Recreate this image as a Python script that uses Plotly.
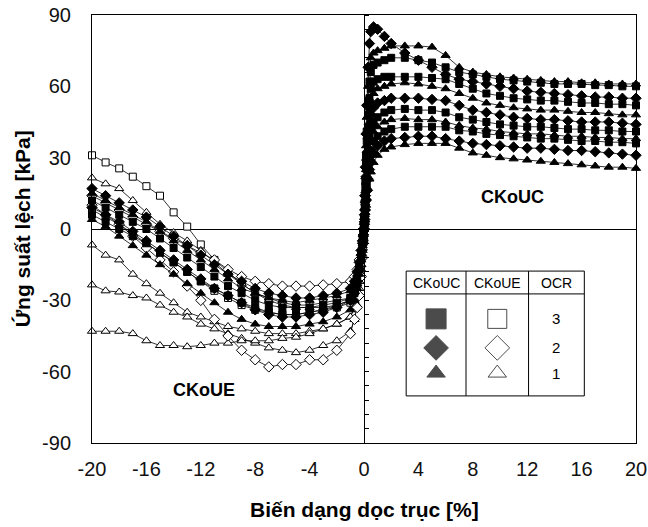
import plotly.graph_objects as go

# ---------------- data ----------------
XR = [0, 0.03, 0.06, 0.1, 0.15, 0.2, 0.3, 0.4, 0.5, 0.7, 1, 1.5, 2, 3, 4, 5, 6, 7, 8, 9,
      10, 11, 12, 13, 14, 15, 16, 17, 18, 19, 20]

uc_r1_dia = [0, 6, 14, 26, 40, 52, 68, 78, 83, 85, 84, 81, 78, 74, 71, 68, 65, 63, 62, 61,
             60, 59, 58, 57.5, 57, 56.5, 56, 55.5, 55.5, 55, 55]
uc_r2_tri = [0, 5, 12, 22, 35, 47, 60, 68, 72, 74, 75, 76, 77, 77, 77, 76.5, 73, 68, 66, 65,
             64, 63.5, 63, 62.5, 62, 62, 61.5, 61.5, 61, 61, 61]
uc_r3_sq = [0, 5, 11, 20, 31, 41, 54, 62, 66, 69, 70, 71, 72, 72, 71, 70, 68, 66, 65, 64,
            63, 62.5, 62, 61.5, 61, 61, 61, 60.5, 60.5, 60, 60]
uc_r4_sq = [0, 4, 10, 18, 28, 37, 48, 55, 59, 62, 63, 64, 64, 64, 64, 63.5, 63, 61, 59, 57,
            56, 55, 54.5, 54, 54, 53.5, 53, 53, 52.5, 52.5, 52]
uc_r5_tri = [0, 4, 9, 16, 25, 33, 43, 50, 54, 57, 59, 60, 61, 61.5, 61, 60, 59, 57, 55, 53,
             52, 51, 50.5, 50, 50, 49.5, 49, 49, 48.5, 48, 48]
uc_r6_dia = [0, 3, 8, 14, 22, 29, 38, 44, 48, 51, 53, 54, 55, 55, 55, 54.5, 54, 52, 50, 49,
             48, 47, 46.5, 46, 46, 45.5, 45, 45, 45, 44.5, 44]
uc_r7_sq = [0, 3, 7, 12, 19, 25, 33, 39, 42, 45, 47, 49, 50, 50.5, 50, 50, 49, 47, 46, 45,
            44, 43.5, 43, 43, 42.5, 42, 42, 41.5, 41.5, 41, 41]
uc_r8_tri = [0, 3, 6, 11, 17, 22, 29, 34, 38, 41, 43, 45, 46, 46.5, 46, 46, 45, 43.5, 42.5, 42,
             41, 40.5, 40, 40, 39.5, 39, 39, 38.5, 38.5, 38, 38]
uc_r9_sq = [0, 2, 5, 9, 14, 19, 25, 30, 33, 37, 39, 41, 42, 43, 43, 43, 43, 41.5, 41, 40,
            39.5, 39, 38.5, 38, 38, 37.5, 37, 37, 36.5, 36.5, 36]
uc_r10_dia = [0, 2, 4, 8, 12, 16, 21, 25, 28, 32, 35, 37, 38, 38.5, 39, 39, 38, 37, 36, 35.5,
              35, 34.5, 34, 34, 33.5, 33, 33, 32.5, 32, 31.5, 31]
uc_r11_tri = [0, 2, 4, 7, 10, 13, 17, 21, 24, 28, 31, 33.5, 34.5, 35.5, 36, 36, 36, 34, 32, 31,
              30, 29.5, 29, 28.5, 28, 27.5, 27, 26.5, 26, 26, 25.5]

XL = [-20, -19, -18, -17, -16, -15, -14, -13, -12, -11, -10, -9, -8, -7, -6, -5, -4, -3, -2, -1,
      -0.7, -0.5, -0.35, -0.2, -0.1, -0.05, 0]

ue_l1_sq = [31, 28, 25.5, 22, 18, 14, 7, 1, -6.5, -13, -18, -23, -27, -29, -31, -32, -32, -31, -30, -29,
            -26, -22, -17, -11, -6, -3, 0]
ue_l2_tri = [21.5, 19, 17, 12, 7, 2, -1.5, -5, -9, -14, -19, -23, -27, -30, -32, -33, -33, -33, -32, -30,
             -27, -23, -18, -12, -6, -3, 0]
ue_f1_dia = [17, 14, 11, 8, 5, 1, -3, -7, -11, -15, -19, -22, -25, -27, -28, -29, -29, -28, -27, -25,
             -22, -18, -14, -9, -5, -2.5, 0]
ue_f3_tri = [15, 12, 9, 6, 3, -1, -5, -9, -13, -17, -21, -25, -27, -29, -30, -31, -30, -29, -28, -26,
             -23, -19, -15, -10, -5, -2.5, 0]
ue_f2_sq = [12, 9, 6, 3, 0, -4, -8, -12, -16, -20, -24, -27, -30, -32, -33, -33, -33, -32, -31, -29,
            -26, -21, -16, -11, -6, -3, 0]
ue_f6_dia = [9, 6, 3, -1, -5, -9, -13, -17, -21, -25, -28, -31, -34, -36, -37, -37, -36, -35, -33, -30,
             -27, -22, -17, -11, -6, -3, 0]
ue_f4_sq = [6, 3, 0, -3, -6, -10, -14, -18, -22, -25, -28, -31, -33, -35, -36, -36, -35, -34, -32, -30,
            -27, -23, -17, -12, -6, -3, 0]
ue_f5_tri = [4, 1, -3, -7, -11, -15, -19, -23, -27, -31, -35, -38, -40, -41, -41, -41, -40, -39, -37, -34,
             -30, -25, -19, -13, -7, -3.5, 0]
ue_l3_sq = [8, 5, 2, -2, -6, -10, -14, -18, -22, -26, -29, -32, -34, -35, -36, -36, -35, -34, -33, -31,
            -28, -23, -18, -12, -6, -3, 0]
ue_l8_dia = [14, 11, 8, 5, 2, -1, -4, -7, -10, -13, -17, -20, -22, -23, -24, -24, -24, -23.5, -23, -22,
             -20, -17, -13, -9, -5, -2.5, 0]
ue_l4_tri = [-6.7, -11, -13, -19, -23, -27, -31, -35, -37, -39, -41, -42, -43, -44, -44, -44, -43, -42, -40, -37,
             -33, -28, -22, -15, -8, -4, 0]
ue_l5_tri = [-23.5, -26, -26.5, -28, -29, -32, -35, -37, -40, -42, -44, -46, -48, -50, -51, -52, -51, -49, -47, -43,
             -38, -32, -25, -17, -9, -4.5, 0]
ue_l6_tri = [-43, -43, -43, -44, -47, -49, -49, -49.5, -49, -48, -48, -47, -47, -47, -46, -45.5, -44, -42, -40, -37,
             -33, -28, -22, -15, -8, -4, 0]
ue_l7_dia = [10, 6, 2, -3, -8, -13, -18, -24, -30, -38, -45, -51, -55, -58, -57, -57, -55, -55, -51, -44,
             -38, -33, -28, -20, -12, -6, 0]

x_ticks = [-20, -16, -12, -8, -4, 0, 4, 8, 12, 16, 20]
y_ticks = [-90, -60, -30, 0, 30, 60, 90]

legend_headers = ["CKoUC", "CKoUE", "OCR"]
legend_ocr = ["3", "2", "1"]

# ---------------- figure ----------------
SYM = {"sq": "square", "dia": "diamond", "tri": "triangle-up"}
SIZE = {"sq": 7, "dia": 8, "tri": 8}
FONT = "Liberation Sans, Arial"

fig = go.Figure()


def add_curve(xs, ys, kind, filled):
    fig.add_trace(go.Scatter(
        x=xs, y=ys, mode="lines+markers", showlegend=False, cliponaxis=False,
        line=dict(color="black", width=0.8),
        marker=dict(symbol=SYM[kind], size=SIZE[kind],
                    color="black" if filled else "white",
                    line=dict(color="black", width=1)),
    ))


for ys, kind in [(uc_r1_dia, "dia"), (uc_r2_tri, "tri"), (uc_r3_sq, "sq"), (uc_r4_sq, "sq"),
                 (uc_r5_tri, "tri"), (uc_r6_dia, "dia"), (uc_r7_sq, "sq"), (uc_r8_tri, "tri"),
                 (uc_r9_sq, "sq"), (uc_r10_dia, "dia"), (uc_r11_tri, "tri")]:
    add_curve(XR, ys, kind, True)

for ys, kind, filled in [(ue_l1_sq, "sq", False), (ue_l2_tri, "tri", False),
                         (ue_l8_dia, "dia", False), (ue_l3_sq, "sq", False),
                         (ue_l4_tri, "tri", False), (ue_l5_tri, "tri", False),
                         (ue_l6_tri, "tri", False), (ue_l7_dia, "dia", False),
                         (ue_f1_dia, "dia", True), (ue_f3_tri, "tri", True),
                         (ue_f2_sq, "sq", True), (ue_f6_dia, "dia", True),
                         (ue_f4_sq, "sq", True), (ue_f5_tri, "tri", True)]:
    add_curve(XL, ys, kind, filled)

# legend table (data coords)
tx0, tx1, tx2, tx3 = 3.1, 7.5, 12.1, 16.2
ty_top, ty_hdr, ty_bot = -17.7, -27.3, -70.2
row_y = [-37.8, -50.0, -60.6]
col_c = [(tx0 + tx1) / 2, (tx1 + tx2) / 2, (tx2 + tx3) / 2]

fig.add_shape(type="rect", x0=tx0, x1=tx3, y0=ty_bot, y1=ty_top,
              line=dict(color="black", width=1), fillcolor="white", layer="below")
fig.add_shape(type="line", x0=tx0, x1=tx3, y0=ty_hdr, y1=ty_hdr, line=dict(color="black", width=1))
for xv in (tx1, tx2):
    fig.add_shape(type="line", x0=xv, x1=xv, y0=ty_bot, y1=ty_top, line=dict(color="black", width=1))

fig.add_trace(go.Scatter(
    x=[col_c[0]] * 3, y=row_y, mode="markers", showlegend=False,
    marker=dict(symbol=["square", "diamond", "triangle-up"], size=[20, 19, 16],
                color="black", line=dict(color="black", width=1))))
fig.add_trace(go.Scatter(
    x=[col_c[1]] * 3, y=row_y, mode="markers", showlegend=False,
    marker=dict(symbol=["square", "diamond", "triangle-up"], size=[19, 19, 16],
                color="white", line=dict(color="black", width=1))))

for c, h in zip(col_c, legend_headers):
    fig.add_annotation(x=c, y=(ty_top + ty_hdr) / 2, text=h, showarrow=False,
                       font=dict(family=FONT, size=14, color="black"))
for r, t in zip(row_y, legend_ocr):
    fig.add_annotation(x=col_c[2], y=r, text=t, showarrow=False,
                       font=dict(family=FONT, size=15, color="black"))

fig.add_annotation(x=10.9, y=13.5, text="<b>CKoUC</b>", showarrow=False,
                   font=dict(family=FONT, size=18, color="black"))
fig.add_annotation(x=-11.8, y=-67.7, text="<b>CKoUE</b>", showarrow=False,
                   font=dict(family=FONT, size=18, color="black"))

# axis titles placed as paper annotations
fig.add_annotation(xref="paper", yref="paper", x=0.5, y=-0.155, yanchor="middle",
                   text="<b>Biến dạng dọc trục [%]</b>", showarrow=False,
                   font=dict(family=FONT, size=21, color="black"))
fig.add_annotation(xref="paper", yref="paper", x=-0.128, y=0.5, xanchor="center",
                   text="<b>Ứng suất lệch [kPa]</b>", showarrow=False, textangle=-90,
                   font=dict(family=FONT, size=21, color="black"))

fig.update_layout(
    width=648, height=527,
    margin=dict(l=92, r=12, t=15, b=84),
    paper_bgcolor="white", plot_bgcolor="white",
    font=dict(family=FONT, color="black"),
    xaxis=dict(range=[-20, 20], tickvals=x_ticks, ticktext=[str(v) for v in x_ticks],
               ticks="", showgrid=False, automargin=False, ticklabelstandoff=8,
               zeroline=False, showline=True, mirror=True, linecolor="black", linewidth=1,
               tickfont=dict(size=20, color="#111")),
    yaxis=dict(range=[-90, 90], tickvals=y_ticks, ticktext=[str(v) for v in y_ticks],
               ticks="", showgrid=False, automargin=False, ticklabelstandoff=16,
               zeroline=True, zerolinecolor="black", zerolinewidth=1,
               showline=True, mirror=True, linecolor="black", linewidth=1,
               tickfont=dict(size=20, color="#111")),
    yaxis2=dict(range=[-90, 90], overlaying="y", anchor="free", position=0.5, side="right",
                tick0=0, dtick=6, ticks="outside", ticklen=4, tickcolor="black",
                showticklabels=False, showline=True, linecolor="black", linewidth=1,
                showgrid=False, zeroline=False, automargin=False),
)
# invisible trace to activate yaxis2 (zero-line ticks)
fig.add_trace(go.Scatter(x=[0], y=[0], yaxis="y2", mode="markers", showlegend=False,
                         marker=dict(opacity=0), hoverinfo="skip"))

fig.write_html("out.html")
